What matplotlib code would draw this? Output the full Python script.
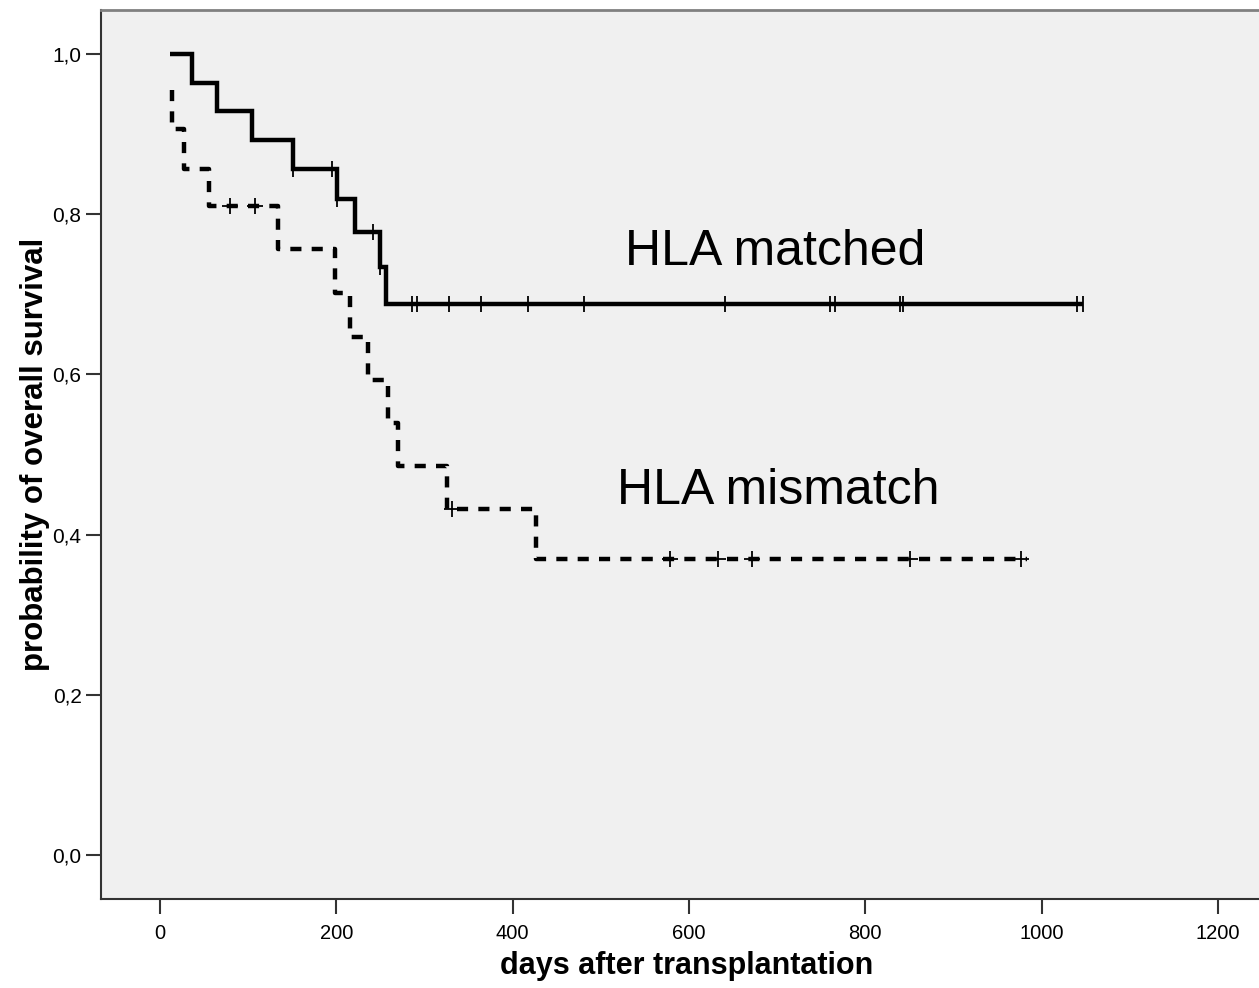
import matplotlib
matplotlib.use("Agg")
import matplotlib.pyplot as plt

# Kaplan-Meier steps (days, survival)
matched_days = [11, 36, 65, 104, 151, 201, 221, 250, 256, 1047]
matched_surv = [1.0, 0.964, 0.929, 0.893, 0.857, 0.819, 0.778, 0.734, 0.688, 0.688]
matched_cens_days = [151, 195, 201, 242, 250, 286, 292, 328, 364, 417, 481,
                     641, 760, 766, 840, 843, 1040, 1047]
matched_cens_surv = [0.857, 0.857, 0.819, 0.778, 0.734] + [0.688] * 13

mismatch_days = [13, 13, 27, 55, 134, 199, 216, 236, 259, 270, 325, 427, 984]
mismatch_surv = [0.955, 0.906, 0.857, 0.810, 0.756, 0.702, 0.647, 0.593,
                 0.539, 0.486, 0.432, 0.370, 0.370]
mismatch_cens_days = [79, 108, 331, 579, 633, 672, 851, 977]
mismatch_cens_surv = [0.810, 0.810, 0.432, 0.370, 0.370, 0.370, 0.370, 0.370]

x_ticks = [0, 200, 400, 600, 800, 1000, 1200]
y_ticks = [0.0, 0.2, 0.4, 0.6, 0.8, 1.0]
y_ticklabels = ["0,0", "0,2", "0,4", "0,6", "0,8", "1,0"]

plt.rcParams["font.family"] = ["Liberation Sans", "DejaVu Sans"]

fig = plt.figure(figsize=(12.59, 9.88), dpi=100)
ax = fig.add_axes([101 / 1259, 1 - 899 / 988, 1.01 - 101 / 1259, (899 - 10) / 988])
ax.set_facecolor("#f0f0f0")

ax.plot(matched_days, matched_surv, drawstyle="steps-post", color="black",
        lw=3.2, solid_capstyle="butt", solid_joinstyle="miter")
ax.plot(matched_cens_days, matched_cens_surv, ls="none", marker="|",
        ms=12, mew=1.3, color="black")

ax.plot(mismatch_days, mismatch_surv, drawstyle="steps-post", color="black",
        lw=3.2, dashes=(2.5, 2.3), dash_capstyle="butt")
ax.plot(mismatch_cens_days, mismatch_cens_surv, ls="none", marker="+",
        ms=12, mew=1.3, color="black")

ax.text(698, 0.753, "HLA matched", fontsize=36, ha="center", va="center")
ax.text(701, 0.455, "HLA mismatch", fontsize=36, ha="center", va="center")

ax.set_xlim(-67, 1261)
ax.set_ylim(-0.055, 1.055)
ax.set_xticks(x_ticks)
ax.set_xticklabels([str(t) for t in x_ticks], fontsize=14.5)
ax.set_yticks(y_ticks)
ax.set_yticklabels(y_ticklabels, fontsize=15)
ax.tick_params(direction="out", length=11, width=1.5, color="#333333", pad=3)
ax.tick_params(axis="x", pad=7)

for side in ["left", "bottom"]:
    ax.spines[side].set_color("#333333")
    ax.spines[side].set_linewidth(1.5)
ax.spines["top"].set_color("#808080")
ax.spines["top"].set_linewidth(2)
ax.spines["right"].set_visible(False)

ax.set_xlabel("days after transplantation", fontweight="bold", fontsize=22,
              labelpad=6)
ax.set_ylabel("probability of overall survival", fontweight="bold", fontsize=22.5,
              labelpad=2)

fig.savefig("out.png", dpi=100)
